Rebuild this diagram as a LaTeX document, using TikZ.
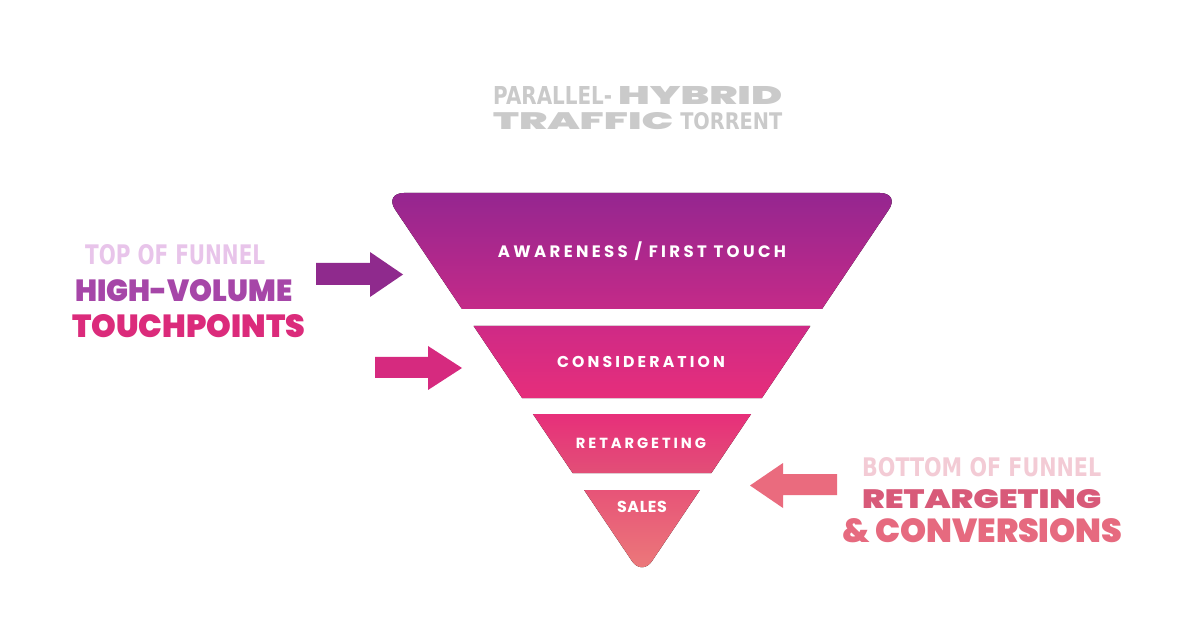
\documentclass[tikz,border=0pt]{standalone}
\usepackage{fontspec}
\usepackage{graphicx}
\setmainfont{Poppins}
\newfontfamily\heavyfont{Poppins Black}
\newfontfamily\condfont{DejaVu Sans Bold}
\newfontfamily\bandfont{Poppins}[LetterSpace=20]
\newfontfamily\salesfont{Poppins}[LetterSpace=4]
\usetikzlibrary{positioning}
\definecolor{titlegray}{HTML}{CACACA}
\definecolor{topfun}{HTML}{E8C4EA}
\definecolor{highvol}{HTML}{A646A8}
\definecolor{touchp}{HTML}{DB2B7B}
\definecolor{botfun}{HTML}{F3CBD5}
\definecolor{retarg}{HTML}{D85A79}
\definecolor{convers}{HTML}{E66A7F}
\definecolor{arrowA}{HTML}{8F2A8D}
\definecolor{arrowB}{HTML}{D62A7F}
\definecolor{arrowC}{HTML}{EA6B7E}
\definecolor{funA}{HTML}{952690}
\definecolor{funB}{HTML}{C42A88}
\definecolor{funC}{HTML}{CF2A86}
\definecolor{funD}{HTML}{E62E7B}
\definecolor{funE}{HTML}{E72F7A}
\definecolor{funF}{HTML}{E24F77}
\definecolor{funG}{HTML}{E75478}
\definecolor{funH}{HTML}{EC7C7A}
% squeeze a word into a given width and cap height (in px)
\newcommand{\fitto}[3]{\resizebox{#1pt}{#2pt}{#3}}
% only the width is fixed
\newcommand{\fitwd}[2]{\resizebox{#1pt}{!}{#2}}
\tikzset{
      bandlabel/.style={text=white, inner sep=0, anchor=base},
      sidetext/.style={anchor=base west, inner sep=0}
    }

\begin{document}
\begin{tikzpicture}[x=1pt,y=-1pt]
    \fill[white] (0,0) rectangle (1200,644);
    \useasboundingbox (0,0) rectangle (1200,644);
    % title
    \node[sidetext, text=titlegray] (title1) at (493,105) {\fitto{119}{18}{\condfont PARALLEL-}\hspace{6pt}\fitto{164}{18}{\heavyfont HYBRID}};
    \node[sidetext, text=titlegray] (title2) at (493,130) {\fitto{180}{17}{\heavyfont TRAFFIC}\hspace{7pt}\fitto{102}{17}{\condfont TORRENT}};
    % funnel bands
    \fill[top color=funA, bottom color=funB] (462,309) [rounded corners=20] -- (384,193) -- (900,193) [sharp corners] -- (822,309) -- cycle;
    \fill[top color=funC, bottom color=funD] (473.6,326) -- (810.4,326) -- (761.9,398) -- (522.1,398) -- cycle;
    \fill[top color=funE, bottom color=funF] (532.9,414) -- (751.1,414) -- (711.4,473) -- (572.6,473) -- cycle;
    \fill[top color=funG, bottom color=funH] (584.1,490) -- (699.9,490) [rounded corners=18] -- (642,576) [sharp corners] -- cycle;
    \node[bandlabel] (awareness) at (642,258) {\fitwd{288}{\bandfont\bfseries AWARENESS / FIRST TOUCH}};
    \node[bandlabel] (consideration) at (641,367) {\fitwd{168}{\bandfont\bfseries CONSIDERATION}};
    \node[bandlabel] (retargeting) at (641,448) {\fitwd{130}{\bandfont\bfseries RETARGETING}};
    \node[bandlabel] (sales) at (642,512) {\fitwd{50}{\salesfont\bfseries SALES}};
    % arrows
    \fill[arrowA] (316,263) -- (370,263) -- (370,252) -- (403,274.5) -- (370,297) -- (370,285) -- (316,285) -- cycle;
    \fill[arrowB] (375,357) -- (428,357) -- (428,346) -- (462,368) -- (428,390) -- (428,378) -- (375,378) -- cycle;
    \fill[arrowC] (837,474) -- (783,474) -- (783,463) -- (750,485.5) -- (783,508) -- (783,495) -- (837,495) -- cycle;
    % side texts
    \node[sidetext] (topfunnel) at (85,265) {\fitto{180}{20}{\condfont\color{topfun}TOP OF FUNNEL}};
    \node[sidetext] (highvolume) at (75,302) {\fitto{217}{22}{\heavyfont\color{highvol}HIGH-VOLUME}};
    \node[sidetext] (touchpoints) at (72,338) {\fitto{233}{23}{\heavyfont\color{touchp}TOUCHPOINTS}};
    \node[sidetext] (botfunnel) at (862,476) {\fitto{239}{19}{\condfont\color{botfun}BOTTOM OF FUNNEL}};
    \node[sidetext] (retargetside) at (862,508) {\fitto{239}{19}{\heavyfont\color{retarg}RETARGETING}};
    \node[sidetext] (conversions) at (842,542) {\fitto{280}{24}{\heavyfont\color{convers}\& CONVERSIONS}};
    \end{tikzpicture}
\end{document}
